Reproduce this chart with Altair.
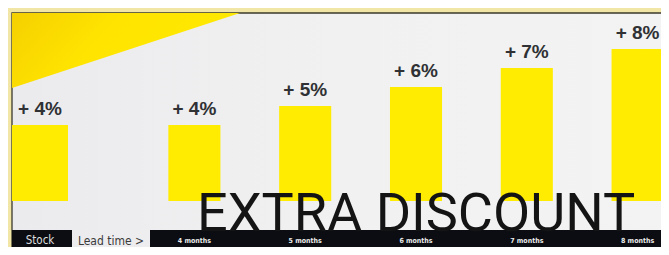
import altair as alt
import pandas as pd

# ---- data ----
stock_cat = ["Stock"]
stock_val = [4]
month_cats = ["4 months", "5 months", "6 months", "7 months", "8 months"]
month_vals = [4, 5, 6, 7, 8]
title_text = "EXTRA DISCOUNT"
lead_text = "Lead time >"

W, H = 653, 239

stock_df = pd.DataFrame({"cat": stock_cat, "value": stock_val})
month_df = pd.DataFrame({"cat": month_cats, "value": month_vals})
one = pd.DataFrame({"a": [0]})

yscale = alt.Scale(domain=[-2.42, 10.16], nice=False, zero=False)
BAR = "#ffec00"
LBL = "#2f3134"
NARROW = "DejaVu Sans Condensed, Liberation Sans Narrow, Roboto, sans-serif"

panel_fill = alt.Gradient(
    gradient="linear", x1=0, y1=0, x2=1, y2=0,
    stops=[alt.GradientStop(color="#ebebee", offset=0),
           alt.GradientStop(color="#f1f1f1", offset=0.5),
           alt.GradientStop(color="#f3f3f3", offset=1)])
tri_fill = alt.Gradient(
    gradient="linear", x1=0, y1=0, x2=1, y2=0.3,
    stops=[alt.GradientStop(color="#f5d000", offset=0),
           alt.GradientStop(color="#ffe400", offset=0.45),
           alt.GradientStop(color="#ffe900", offset=1)])

panel = alt.Chart(one).mark_rect(fill=panel_fill, stroke="#3b3a2c", strokeWidth=1.3).encode(
    x=alt.value(4), x2=alt.value(W + 20), y=alt.value(5), y2=alt.value(H + 20))

tri = alt.Chart(one).mark_point(
    shape="M-1,-1L1,-1L-1,-0.342Z", filled=True, size=228 ** 2,
    fill=tri_fill, opacity=1, strokeWidth=0).encode(
    x=alt.value(118), y=alt.value(119))

stock_x = alt.X("cat:N", axis=None, sort=stock_cat,
                scale=alt.Scale(domain=stock_cat, range=[4, 60], paddingInner=0, paddingOuter=0))
month_x = alt.X("cat:N", axis=None, sort=month_cats,
                scale=alt.Scale(domain=month_cats, range=[131, 685],
                                paddingInner=0.53, paddingOuter=0.265))
y_enc = alt.Y("value:Q", scale=yscale, axis=None)


def group(df, xenc, lbl_size, lbl_weight, lbl_color):
    base = alt.Chart(df)
    bars = base.mark_bar(color=BAR).encode(x=xenc, y=y_enc, y2=alt.value(222))
    pct = base.transform_calculate(label="'+ ' + datum.value + '%'").mark_text(
        font="Liberation Sans", fontWeight="bold", fontSize=19, color=LBL,
        baseline="alphabetic", dy=-10).encode(x=xenc, y=y_enc, text="label:N")
    names = base.mark_text(
        font=NARROW, fontWeight=lbl_weight, fontSize=lbl_size, color=lbl_color,
        baseline="middle").encode(x=xenc, y=alt.value(233), text="cat:N")
    return bars, pct, names


s_bars, s_pct, s_names = group(stock_df, stock_x, 11.5, "normal", "#dedede")
m_bars, m_pct, m_names = group(month_df, month_x, 7, "bold", "#ececec")

stock_box = alt.Chart(one).mark_rect(color="#0b0d12").encode(
    x=alt.value(4), x2=alt.value(64), y=alt.value(222), y2=alt.value(242))
month_strip = alt.Chart(one).mark_rect(color="#0b0d12").encode(
    x=alt.value(142), x2=alt.value(W + 20), y=alt.value(222), y2=alt.value(242))

lead = alt.Chart(one).mark_text(
    text=lead_text, font=NARROW, fontSize=12, color="#3a3a3a",
    align="center", baseline="middle").encode(x=alt.value(103), y=alt.value(233))

title = alt.Chart(one).mark_text(
    text=title_text, font="Roboto", fontSize=54, color="#141414",
    align="left", baseline="alphabetic").encode(x=alt.value(189), y=alt.value(223))

chart = alt.layer(
    panel, tri,
    alt.layer(s_bars, s_pct, stock_box, s_names),
    alt.layer(m_bars, m_pct, month_strip, m_names),
    lead, title,
).resolve_scale(x="independent").properties(
    width=W, height=H, padding=0,
    autosize=alt.AutoSizeParams(type="none"),
    background="#f2e6a6",
).configure_view(stroke=None)

chart.save("out.html", embed_options={"renderer": "svg", "actions": False})
